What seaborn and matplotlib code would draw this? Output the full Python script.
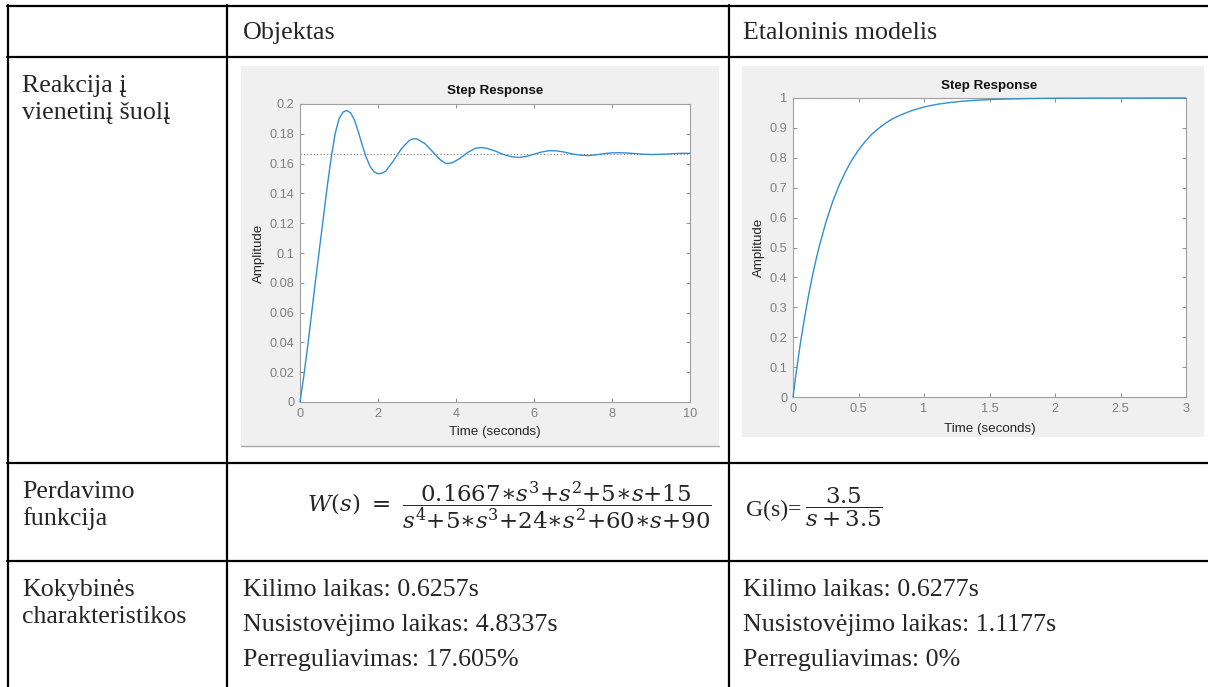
import numpy as np
import matplotlib
matplotlib.use("Agg")
import matplotlib.pyplot as plt
import seaborn as sns
from matplotlib.patches import Rectangle
from matplotlib.lines import Line2D
from matplotlib.ticker import FuncFormatter

# ---- step response samples -------------------------------------------------
obj_time = [0.0, 0.1, 0.2, 0.3, 0.4, 0.5, 0.6, 0.7, 0.8, 0.9, 1.0, 1.1, 1.2,
            1.3, 1.4, 1.5, 1.6, 1.7, 1.8, 1.9, 2.0, 2.1, 2.2, 2.4, 2.6, 2.8,
            2.9, 3.0, 3.2, 3.4, 3.6, 3.75, 3.9, 4.1, 4.3, 4.5, 4.65, 4.8, 5.0,
            5.2, 5.4, 5.6, 5.8, 6.0, 6.2, 6.4, 6.6, 6.8, 7.0, 7.2, 7.4, 7.6,
            7.8, 8.0, 8.2, 8.4, 8.6, 8.8, 9.0, 9.2, 9.4, 9.6, 9.8, 10.0]
obj_amp = [0.0, 0.018, 0.038, 0.060, 0.082, 0.103, 0.124, 0.145, 0.164,
           0.180, 0.190, 0.1945, 0.1957, 0.194, 0.189, 0.181, 0.172, 0.164,
           0.158, 0.1545, 0.1532, 0.1535, 0.155, 0.162, 0.170, 0.1755,
           0.1767, 0.1765, 0.1735, 0.168, 0.1625, 0.160, 0.1605, 0.1635,
           0.1675, 0.1703, 0.1708, 0.1702, 0.1685, 0.1663, 0.1647, 0.1641,
           0.1648, 0.1663, 0.1678, 0.1687, 0.1685, 0.1676, 0.1664, 0.1656,
           0.1654, 0.1659, 0.1667, 0.1672, 0.1673, 0.1671, 0.1667, 0.1663,
           0.1661, 0.1662, 0.1664, 0.1667, 0.1669, 0.1669]
obj_final = 0.1667

ref_time = [0.0, 0.025, 0.05, 0.075, 0.1, 0.125, 0.15, 0.175, 0.2, 0.25,
            0.3, 0.35, 0.4, 0.45, 0.5, 0.55, 0.6, 0.65, 0.7, 0.75, 0.8, 0.9,
            1.0, 1.1, 1.2, 1.3, 1.4, 1.5, 1.6, 1.8, 2.0, 2.5, 3.0]
ref_amp = [0.0, 0.084, 0.161, 0.231, 0.295, 0.354, 0.409, 0.458, 0.503,
           0.583, 0.650, 0.706, 0.753, 0.793, 0.826, 0.854, 0.878, 0.897,
           0.914, 0.928, 0.939, 0.957, 0.970, 0.979, 0.985, 0.9895, 0.9925,
           0.9948, 0.9963, 0.9982, 0.9991, 0.9998, 1.0]
ref_final = 1.0

obj_xticks = [0, 2, 4, 6, 8, 10]
obj_yticks = [0, 0.02, 0.04, 0.06, 0.08, 0.1, 0.12, 0.14, 0.16, 0.18, 0.2]
ref_xticks = [0, 0.5, 1, 1.5, 2, 2.5, 3]
ref_yticks = [0, 0.1, 0.2, 0.3, 0.4, 0.5, 0.6, 0.7, 0.8, 0.9, 1]

# ---- table text ------------------------------------------------------------
header = ["Objektas", "Etaloninis modelis"]
row_titles = [["Reakcija į", "vienetinį šuolį"],
              ["Perdavimo", "funkcija"],
              ["Kokybinės", "charakteristikos"]]
obj_stats = ["Kilimo laikas: 0.6257s",
             "Nusistovėjimo laikas: 4.8337s",
             "Perreguliavimas: 17.605%"]
ref_stats = ["Kilimo laikas: 0.6277s",
             "Nusistovėjimo laikas: 1.1177s",
             "Perreguliavimas: 0%"]
obj_tf = (r"$W(s)\ =\ \dfrac{0.1667{\ast}s^3{+}s^2{+}5{\ast}s{+}15}"
          r"{s^4{+}5{\ast}s^3{+}24{\ast}s^2{+}60{\ast}s{+}90}$")
ref_tf_lead = "G(s)="
ref_tf = r"$\dfrac{3.5}{s+3.5}$"

sns.set_theme(style="white")
plt.rcParams["font.family"] = ["Liberation Sans", "DejaVu Sans"]
plt.rcParams["mathtext.fontset"] = "dejavuserif"

W, H = 1208, 687
fig = plt.figure(figsize=(W / 100, H / 100), dpi=100)
fig.patch.set_facecolor("white")


def fx(x):
    return x / W


def fy(y):
    return 1 - y / H


SERIF = ["Liberation Serif", "DejaVu Serif"]
TSIZE = 18.7

# grey figure panels behind the two step plots
for (x0, y0, x1, y1) in [(241, 66, 719, 446), (742, 66, 1204, 437)]:
    fig.add_artist(Rectangle((fx(x0), fy(y1)), (x1 - x0) / W, (y1 - y0) / H,
                             transform=fig.transFigure, facecolor="#f0f0f0",
                             edgecolor="none", zorder=-5))
fig.add_artist(Line2D([fx(241), fx(719)], [fy(446), fy(446)],
                      transform=fig.transFigure, color="#a8a8a8", lw=1.0,
                      zorder=-4))

# table rules
lw_rule = 1.6
for x in [8, 227, 729]:
    fig.add_artist(Line2D([fx(x), fx(x)], [fy(5), fy(690)],
                          transform=fig.transFigure, color="black", lw=lw_rule))
for y in [6, 57, 463, 561]:
    fig.add_artist(Line2D([fx(7), fx(1210)], [fy(y), fy(y)],
                          transform=fig.transFigure, color="black", lw=lw_rule))


def step_axes(rect, t, a, final, xlim, ylim, xticks, yticks, title_pad,
              ylab_x, xlab_y):
    x0, y0, x1, y1 = rect
    ax = fig.add_axes([fx(x0), fy(y1), (x1 - x0) / W, (y1 - y0) / H])
    ax.set_facecolor("white")
    sns.lineplot(x=t, y=a, ax=ax, color="#2f8fd2", lw=1.0, zorder=3)
    ax.lines[-1].set_clip_on(False)
    ax.axhline(final, color="#7a7a7a", lw=0.8, ls=(0, (1, 2)), zorder=2)
    ax.set_xlim(*xlim)
    ax.set_ylim(*ylim)
    ax.set_xticks(xticks)
    ax.set_yticks(yticks)
    fmt = FuncFormatter(lambda v, p: f"{v:g}")
    ax.xaxis.set_major_formatter(fmt)
    ax.yaxis.set_major_formatter(fmt)
    for s in ax.spines.values():
        s.set_visible(True)
        s.set_color("#a0a0a0")
        s.set_linewidth(0.8)
    ax.tick_params(direction="in", length=3, width=0.7, color="#909090",
                   top=True, right=True, bottom=True, left=True,
                   labelsize=9.2, labelcolor="#808080", pad=4)
    ax.set_title("Step Response", fontsize=9.6, fontweight="bold",
                 color="#111111", pad=title_pad)
    ax.set_xlabel("Time (seconds)", fontsize=9.6, color="#262626")
    ax.set_ylabel("Amplitude", fontsize=9.6, color="#262626")
    ax.xaxis.set_label_coords(0.5, xlab_y)
    ax.xaxis.label.set_va("center")
    ax.yaxis.set_label_coords(ylab_x, 0.5)
    ax.yaxis.label.set_va("center")
    ax.grid(False)
    return ax


step_axes((300, 104, 690, 402), obj_time, obj_amp, obj_final, (0, 10),
          (0, 0.2), obj_xticks, obj_yticks, 7.5,
          (259 - 300) / 390, (402 - 432) / 298)
step_axes((793, 98, 1186, 397), ref_time, ref_amp, ref_final, (0, 3),
          (0, 1), ref_xticks, ref_yticks, 6.5,
          (759 - 793) / 393, (397 - 429) / 299)

# header row
fig.text(fx(243), fy(39), header[0], family=SERIF, size=TSIZE, va="baseline")
fig.text(fx(743), fy(39), header[1], family=SERIF, size=TSIZE, va="baseline")

# row titles
title_base = [(92, 119), (498, 525), (596, 623)]
for (l1, l2), (b1, b2) in zip(row_titles, title_base):
    fig.text(fx(22), fy(b1), l1, family=SERIF, size=TSIZE, va="baseline")
    fig.text(fx(22), fy(b2), l2, family=SERIF, size=TSIZE, va="baseline")

# transfer functions
fig.text(fx(307), fy(506), obj_tf, size=16.5, va="center", ha="left")
fig.text(fx(746), fy(510), ref_tf_lead, family=SERIF, size=17,
         va="center", ha="left")
fig.text(fx(805), fy(507), ref_tf, size=16.5, va="center", ha="left")

# quality indicators
stat_base = [596, 631, 666]
for s_o, s_r, b in zip(obj_stats, ref_stats, stat_base):
    fig.text(fx(243), fy(b), s_o, family=SERIF, size=TSIZE, va="baseline")
    fig.text(fx(743), fy(b), s_r, family=SERIF, size=TSIZE, va="baseline")

fig.savefig("out.png", dpi=100)
